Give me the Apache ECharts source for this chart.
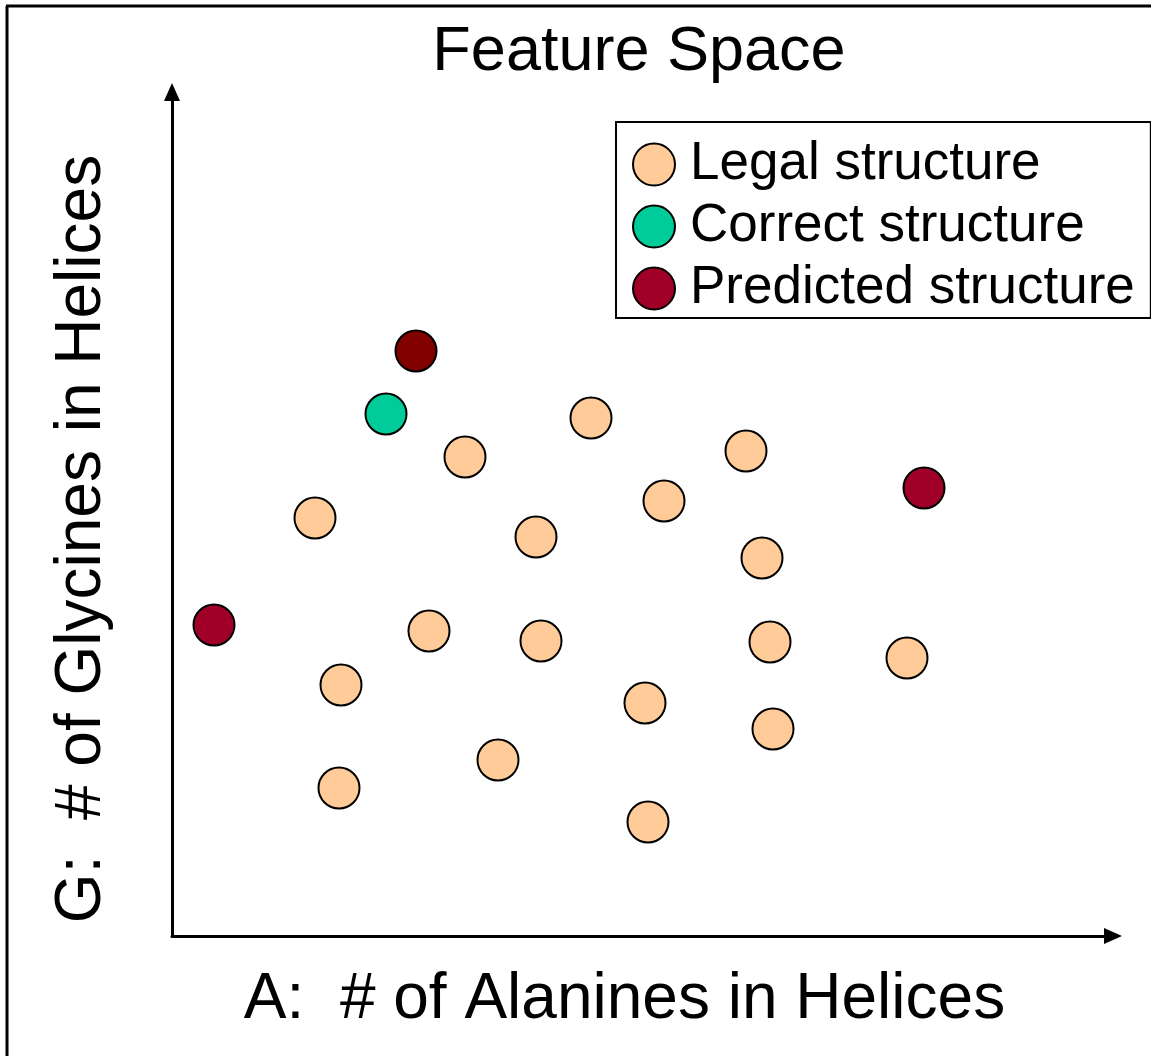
<!DOCTYPE html>
<html>
<head>
<meta charset="utf-8">
<script src="https://cdn.jsdelivr.net/npm/echarts@6/dist/echarts.min.js"></script>
<style>html,body{margin:0;padding:0;background:#fff}#c{width:1151px;height:1056px}</style>
</head>
<body>
<div id="c"></div>
<script>
const titleText = 'Feature Space';
const xName = 'A:  # of Alanines in Helices';
const yName = 'G:  # of Glycines in Helices';
const seriesNames = ['Legal structure', 'Correct structure', 'Predicted structure'];

const legalX = [14.3, 29.3, 41.9, 57.4, 49.2, 36.4, 59.0, 25.7, 36.9, 59.8, 73.5, 16.9, 47.3, 60.1, 32.6, 16.7, 47.6];
const legalY = [41.8, 47.9, 51.8, 48.5, 43.5, 39.9, 37.8, 30.5, 29.5, 29.4, 27.8, 25.1, 23.3, 20.7, 17.6, 14.8, 11.4];
const correctX = [21.4];
const correctY = [52.2];
const predictedX = [4.2, 75.2];
const predictedY = [31.1, 44.8];
const predictedTopX = [24.4];
const predictedTopY = [58.5];

const zip = (xs, ys) => xs.map((x, i) => [x, ys[i]]);
const chart = echarts.init(document.getElementById('c'), null, {renderer: 'canvas'});
const font = '"Liberation Sans", Arial, sans-serif';
const mk = (name, data, color) => ({
  name, type: 'scatter', data, symbol: 'circle', symbolSize: 41,
  itemStyle: {color, borderColor: '#000', borderWidth: 2, opacity: 1},
  emphasis: {disabled: true}
});
const axisLine = {show: true, lineStyle: {color: '#000', width: 3}, symbol: ['none', 'triangle'], symbolSize: [16, 18], symbolOffset: [0, 0]};
chart.setOption({
  animation: false,
  backgroundColor: '#fff',
  textStyle: {fontFamily: font},
  title: {text: titleText, left: 634, top: 16, textAlign: 'center',
    textStyle: {fontFamily: font, fontSize: 63, fontWeight: 'normal', color: '#000'}},
  legend: {
    data: seriesNames, orient: 'vertical', left: 616, top: 122,
    icon: 'circle', itemWidth: 42, itemHeight: 42, itemGap: 9,
    padding: [16, 16, 3, 16],
    borderColor: '#000', borderWidth: 2, backgroundColor: '#fff',
    textStyle: {fontFamily: font, fontSize: 53, color: '#000', padding: [0, 0, 0, 10]}
  },
  grid: {left: 172, right: 38, top: 92, bottom: 120},
  xAxis: {
    type: 'value', min: 0, max: 94.1, name: xName, nameLocation: 'middle', nameGap: 32,
    nameTextStyle: {fontFamily: font, fontSize: 64, color: '#000', padding: [0, 36, 0, 0]},
    axisLine, axisTick: {show: false}, axisLabel: {show: false}, splitLine: {show: false}
  },
  yAxis: {
    type: 'value', min: 0, max: 84.4, name: yName, nameLocation: 'middle', nameGap: 58,
    nameTextStyle: {fontFamily: font, fontSize: 64, color: '#000', padding: [0, 50, 0, 0]},
    axisLine, axisTick: {show: false}, axisLabel: {show: false}, splitLine: {show: false}
  },
  graphic: [
    {type: 'line', shape: {x1: 7, y1: 6, x2: 7, y2: 1056}, style: {stroke: '#000', lineWidth: 3}},
    {type: 'line', shape: {x1: 6, y1: 6, x2: 1151, y2: 6}, style: {stroke: '#000', lineWidth: 3}}
  ],
  series: [
    mk(seriesNames[0], zip(legalX, legalY), '#FFCC99'),
    mk(seriesNames[1], zip(correctX, correctY), '#00CC99'),
    mk(seriesNames[2], zip(predictedX, predictedY), '#A00028'),
    mk('Predicted (top)', zip(predictedTopX, predictedTopY), '#800000')
  ]
});
</script>
</body>
</html>
